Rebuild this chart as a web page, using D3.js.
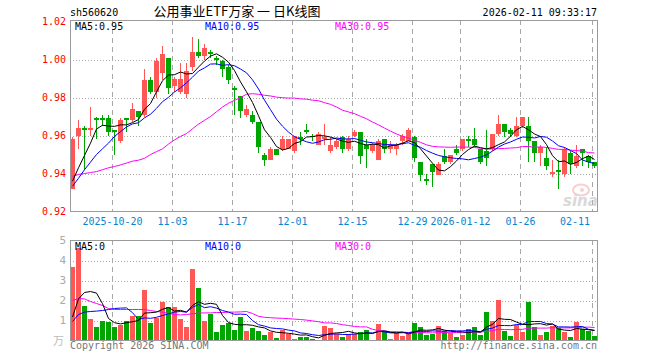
<!DOCTYPE html>
<html><head><meta charset="utf-8">
<script src="https://cdn.jsdelivr.net/npm/d3@7/dist/d3.min.js"></script>
<style>
body{margin:0;background:#fff}
svg{display:block}
text{font-family:"DejaVu Sans Mono",monospace;font-size:10px}
</style>
</head><body>
<svg id="chart" width="660" height="360"></svg>
<script>
const dates = ["2025-10-09","2025-10-10","2025-10-13","2025-10-14","2025-10-15","2025-10-16","2025-10-17","2025-10-20","2025-10-21","2025-10-22","2025-10-23","2025-10-24","2025-10-27","2025-10-28","2025-10-29","2025-10-30","2025-10-31",
"2025-11-03","2025-11-04","2025-11-05","2025-11-06","2025-11-07","2025-11-10","2025-11-11","2025-11-12","2025-11-13","2025-11-14","2025-11-17","2025-11-18","2025-11-19","2025-11-20","2025-11-21","2025-11-24","2025-11-25","2025-11-26","2025-11-27","2025-11-28",
"2025-12-01","2025-12-02","2025-12-03","2025-12-04","2025-12-05","2025-12-08","2025-12-09","2025-12-10","2025-12-11","2025-12-12","2025-12-15","2025-12-16","2025-12-17","2025-12-18","2025-12-19","2025-12-22","2025-12-23","2025-12-24","2025-12-25","2025-12-26","2025-12-29","2025-12-30","2025-12-31",
"2026-01-05","2026-01-06","2026-01-07","2026-01-08","2026-01-09","2026-01-12","2026-01-13","2026-01-14","2026-01-15","2026-01-16","2026-01-19","2026-01-20","2026-01-21","2026-01-22","2026-01-23","2026-01-26","2026-01-27","2026-01-28","2026-01-29","2026-01-30",
"2026-02-02","2026-02-03","2026-02-04","2026-02-05","2026-02-06","2026-02-09","2026-02-10","2026-02-11"];

const open  = [.932,.960,.964,.963,.969,.969,.969,.963,.957,.969,.968,.973,.971,.989,.983,.993,1.001,.986,.983,.982,.996,1.004,1.002,1.004,1.001,.999,.996,.985,.981,.971,.971,.967,.950,.947,.953,.953,.953,.952,.959,.963,.960,.955,.958,.952,.954,.959,.953,.960,.962,.955,.952,.947,.958,.953,.953,.957,.957,.959,.946,.937,.945,.939,.949,.946,.953,.953,.958,.958,.953,.952,.953,.961,.966,.963,.960,.965,.965,.957,.951,.948,.940,.942,.940,.951,.944,.953,.949,.946];
const high  = [.959,.968,.965,.975,.970,.971,.971,.963,.969,.969,.977,.973,.995,.991,1.001,1.007,1.001,.991,.998,.998,1.012,1.011,1.008,1.005,1.002,1.000,.997,.986,.981,.976,.973,.967,.951,.954,.953,.960,.958,.960,.962,.966,.961,.962,.966,.959,.958,.960,.960,.963,.962,.958,.956,.958,.958,.957,.956,.961,.964,.960,.946,.940,.945,.946,.953,.950,.955,.958,.960,.964,.953,.963,.961,.971,.966,.964,.970,.970,.970,.957,.955,.954,.947,.947,.954,.952,.955,.953,.950,.946];
const low   = [.932,.953,.942,.960,.958,.965,.960,.950,.956,.962,.967,.965,.970,.982,.980,.989,.982,.983,.982,.980,.994,1.001,1.000,1.001,.997,.991,.987,.971,.969,.970,.966,.951,.944,.947,.950,.952,.953,.951,.955,.961,.957,.955,.955,.951,.953,.951,.952,.959,.945,.943,.951,.947,.951,.951,.950,.955,.957,.946,.936,.934,.933,.939,.945,.945,.950,.952,.954,.954,.945,.944,.952,.960,.959,.959,.959,.964,.946,.946,.944,.942,.938,.932,.938,.940,.943,.944,.943,.943];
const close = [.958,.964,.963,.964,.968,.968,.962,.962,.968,.968,.974,.970,.989,.983,.999,1.003,.985,.990,.990,.994,1.004,1.002,1.006,1.003,1.000,.995,.989,.984,.973,.974,.967,.954,.947,.953,.950,.958,.958,.960,.958,.962,.959,.961,.959,.955,.957,.953,.958,.962,.949,.953,.955,.957,.953,.955,.955,.960,.963,.948,.939,.936,.941,.945,.946,.950,.951,.958,.957,.955,.946,.948,.961,.966,.962,.961,.965,.970,.957,.951,.954,.944,.941,.941,.953,.945,.949,.951,.946,.944];

const ma5  = [.936,.943,.9495,.956,.9634,.9654,.965,.9648,.9656,.9656,.9668,.9684,.9738,.9768,.983,.9888,.9918,.992,.9934,.9924,.9926,.996,.9992,1.0018,1.003,1.0012,.9986,.9942,.9882,.983,.9774,.9704,.963,.959,.9542,.9524,.9532,.9558,.9568,.9592,.9594,.960,.9598,.9592,.9582,.957,.9564,.957,.9558,.955,.9554,.9552,.9534,.9546,.955,.956,.9572,.9562,.953,.9492,.9454,.9418,.9414,.9436,.9466,.950,.9526,.9544,.9536,.953,.9536,.9552,.9566,.9596,.963,.9648,.963,.9608,.9594,.9552,.9494,.9462,.9466,.9448,.9458,.9478,.9492,.9474];
const ma10 = [.9333,.9375,.942,.946,.950,.953,.956,.9595,.962,.9645,.9661,.9667,.9693,.9712,.9743,.9778,.9801,.9829,.9851,.9877,.9907,.9939,.9956,.9976,.9977,.9969,.9973,.9967,.995,.993,.9893,.9845,.9786,.9736,.9686,.9649,.9618,.9594,.9579,.9567,.9559,.9566,.9578,.958,.9587,.9582,.9582,.9584,.9575,.9566,.9562,.9558,.9552,.9552,.955,.9557,.9562,.9548,.9538,.9521,.9507,.9495,.9488,.9483,.9479,.9477,.9472,.9479,.9486,.9498,.9518,.9539,.9555,.9566,.958,.9592,.9591,.9587,.9595,.9591,.9571,.9546,.9537,.9521,.9505,.9471,.946,.9453];
const ma30 = [.9385,.9395,.940,.9405,.941,.942,.943,.9437,.9445,.9455,.9465,.947,.948,.950,.9515,.953,.9555,.9577,.9595,.961,.9635,.966,.968,.970,.9725,.975,.977,.9785,.980,.9817,.982,.9817,.9812,.9808,.9802,.9799,.9797,.9797,.9793,.9791,.9786,.9783,.9773,.9764,.975,.9733,.9724,.9715,.9701,.9688,.9671,.9656,.9639,.9623,.9608,.9596,.9587,.9575,.9564,.9551,.9543,.954,.9539,.9538,.9539,.9539,.9539,.9537,.9533,.9528,.9529,.9531,.9532,.9534,.9536,.9542,.9542,.9538,.954,.9537,.9532,.9527,.9527,.9523,.9521,.9518,.951,.9508];

const volume = [3.67,4.63,1.75,1.1,0.7,1.0,0.95,0.7,0.8,1.0,1.25,1.25,2.55,0.9,1.15,1.95,1.7,1.67,1.1,0.7,3.6,2.65,1.0,1.35,0.45,0.8,0.9,0.55,1.2,0.5,0.65,0.5,0.3,0.45,0.15,0.55,0.35,0.1,0.2,0.2,0.1,0.05,0.75,0.65,0.35,0.2,0.35,0.35,0.45,0.55,0.05,0.85,0.5,0.1,0.4,0.25,0.4,0.9,0.7,0.3,0.35,0.75,0.5,0.4,0.2,0.3,0.6,0.7,0.3,1.45,1.0,2.05,0.5,0.25,0.8,0.45,1.95,0.7,0.3,0.45,0.75,0.65,0.45,0.2,0.95,0.6,0.5,0.25];
const volMA5  = [1.17,2.08,2.4,2.45,2.37,1.84,1.1,0.89,0.83,0.89,0.94,1.0,1.37,1.39,1.42,1.56,1.65,1.47,1.51,1.42,1.75,1.94,1.81,1.86,1.81,1.25,0.9,0.81,0.78,0.79,0.76,0.68,0.63,0.48,0.41,0.39,0.36,0.32,0.27,0.28,0.19,0.13,0.26,0.35,0.38,0.4,0.46,0.38,0.34,0.38,0.35,0.45,0.48,0.41,0.38,0.42,0.33,0.41,0.53,0.51,0.53,0.6,0.52,0.46,0.44,0.43,0.4,0.44,0.42,0.67,0.81,1.1,1.06,1.05,0.92,0.81,0.79,0.83,0.84,0.77,0.83,0.57,0.52,0.5,0.6,0.57,0.54,0.5];
const volMA10 = [0.95,1.3,1.42,1.45,1.47,1.5,1.55,1.6,1.62,1.63,1.39,1.05,1.13,1.11,1.16,1.25,1.33,1.42,1.45,1.42,1.66,1.8,1.64,1.69,1.62,1.5,1.42,1.31,1.32,1.3,1.0,0.79,0.72,0.63,0.6,0.58,0.52,0.48,0.38,0.35,0.29,0.25,0.29,0.31,0.33,0.3,0.3,0.32,0.35,0.38,0.38,0.46,0.43,0.38,0.38,0.39,0.39,0.45,0.47,0.45,0.48,0.47,0.47,0.5,0.48,0.48,0.5,0.48,0.44,0.56,0.62,0.75,0.75,0.74,0.8,0.81,0.95,0.95,0.95,0.85,0.82,0.68,0.68,0.67,0.69,0.7,0.56,0.51];
const volMA30 = [2.0,2.1,2.08,1.95,1.85,1.75,1.6,1.55,1.55,1.55,1.55,1.55,1.55,1.5,1.45,1.42,1.35,1.3,1.28,1.3,1.33,1.37,1.38,1.38,1.4,1.4,1.42,1.42,1.43,1.45,1.35,1.21,1.16,1.14,1.12,1.11,1.09,1.07,1.05,1.02,0.98,0.94,0.88,0.88,0.85,0.79,0.75,0.7,0.68,0.68,0.56,0.5,0.48,0.44,0.44,0.42,0.4,0.41,0.4,0.39,0.38,0.39,0.4,0.39,0.4,0.39,0.4,0.42,0.42,0.46,0.49,0.56,0.55,0.54,0.55,0.56,0.61,0.62,0.62,0.62,0.64,0.63,0.63,0.63,0.65,0.66,0.67,0.65];

const tickDates  = ["2025-10-20","2025-11-03","2025-11-17","2025-12-01","2025-12-15","2025-12-29","2026-01-12","2026-01-26","2026-02-11"];
const tickLabels = ["2025-10-20","11-03","11-17","12-01","12-15","12-29","2026-01-12","01-26","02-11"];
const priceTicks = [0.92,0.94,0.96,0.98,1.00,1.02];
const priceGrid  = [0.94,0.96,0.98,1.00];
const volTicks   = [1,2,3,4,5];
const volGrid    = [1,2,3,4];

const RED = "#ff5656", GREEN = "#00a600", BLUE = "#0000ff", MAG = "#ff00ff";
const GRID = "#a8a8a8", FRAME = "#9a9a9a", DATE = "#0a84d0";

const svg = d3.select("#chart");
const L = 70, R = 597;
const x = d3.scaleBand().domain(dates).range([L, L + dates.length * 6]).padding(0);
const bw = x.bandwidth() - 1;
const y = d3.scaleLinear().domain([0.92, 1.02]).range([211.5, 21.5]);
const yv = d3.scaleLinear().domain([0, 5]).range([340.5, 240.5]);
const idx = d3.range(dates.length);
const isUp = i => close[i] >= open[i];

// ---- header ----
svg.append("text").attr("x", 70).attr("y", 16).attr("fill", "#000").text("sh560620");
svg.append("text").attr("x", 237).attr("y", 15.5).attr("text-anchor", "middle")
  .style("font-family", "'Noto Sans CJK SC',sans-serif").style("font-size", "13px")
  .attr("fill", "#000").text("公用事业ETF万家 一 日K线图");
svg.append("text").attr("x", 597).attr("y", 16).attr("text-anchor", "end").attr("fill", "#000").text("2026-02-11 09:33:17");

// ---- grids (main) ----
const gMain = svg.append("g").attr("shape-rendering", "crispEdges");
gMain.selectAll("line.hg").data(priceGrid).join("line")
  .attr("x1", L).attr("x2", R).attr("y1", d => Math.round(y(d)) + 0.5).attr("y2", d => Math.round(y(d)) + 0.5)
  .attr("stroke", GRID).attr("stroke-dasharray", "1,2");
gMain.selectAll("line.vg").data(tickDates).join("line")
  .attr("x1", d => x(d) + 0.5).attr("x2", d => x(d) + 0.5).attr("y1", 20).attr("y2", 211)
  .attr("stroke", GRID).attr("stroke-dasharray", "5,4");

// price labels
svg.selectAll("text.py").data(priceTicks).join("text")
  .attr("x", 66).attr("y", d => y(d) + 3.5).attr("text-anchor", "end").attr("fill", "#ff0000")
  .text(d => d.toFixed(2));

// date labels
svg.selectAll("text.dl").data(tickDates).join("text")
  .attr("x", (d, i) => i === tickDates.length - 1 ? x(d) - 2 : x(d) + 0.5)
  .attr("y", 225)
  .attr("text-anchor", (d, i) => i === tickDates.length - 1 ? "end" : "middle")
  .attr("fill", DATE).text((d, i) => tickLabels[i]);

// watermark
const wm = svg.append("g").attr("opacity", 0.55);
wm.append("ellipse").attr("cx", 581).attr("cy", 190).attr("rx", 8).attr("ry", 5.5).attr("fill", "none").attr("stroke", "#f0a8a8").attr("stroke-width", 2);
wm.append("circle").attr("cx", 582).attr("cy", 190).attr("r", 2).attr("fill", "#f0a8a8");
wm.append("text").attr("x", 563).attr("y", 206).style("font-family", "'DejaVu Sans',sans-serif")
  .style("font-size", "15px").style("font-weight", "bold").style("font-style", "italic").attr("fill", "#bbb").text("sina");

// ---- candles ----
const gC = svg.append("g").attr("shape-rendering", "crispEdges");
gC.selectAll("line.wick").data(idx).join("line")
  .attr("x1", i => x(dates[i]) + 2.5).attr("x2", i => x(dates[i]) + 2.5)
  .attr("y1", i => y(high[i])).attr("y2", i => y(low[i]))
  .attr("stroke", i => isUp(i) ? RED : GREEN);
gC.selectAll("rect.body").data(idx).join("rect")
  .attr("x", i => x(dates[i])).attr("width", bw)
  .attr("y", i => y(Math.max(open[i], close[i])))
  .attr("height", i => Math.max(1, Math.abs(y(open[i]) - y(close[i]))))
  .attr("fill", i => isUp(i) ? RED : GREEN);

// MA lines
const lineP = arr => d3.line().x(i => x(dates[i]) + 2.5).y(i => y(arr[i]))(idx);
[[ma30, MAG], [ma10, BLUE], [ma5, "#000"]].forEach(([arr, c]) => {
  svg.append("path").attr("d", lineP(arr)).attr("fill", "none").attr("stroke", c).attr("stroke-width", 1);
});

// main frame
svg.append("path").attr("d", `M${L+0.5},20.5H${R+0.5}V211.5H${L+0.5}Z`).attr("fill", "none")
  .attr("stroke", FRAME).attr("shape-rendering", "crispEdges");

svg.append("text").attr("x", 75).attr("y", 29.5).attr("fill", "#000").text("MA5:0.95");
svg.append("text").attr("x", 205).attr("y", 29.5).attr("fill", BLUE).text("MA10:0.95");
svg.append("text").attr("x", 335).attr("y", 29.5).attr("fill", MAG).text("MA30:0.95");

// ---- volume panel ----
const gV = svg.append("g").attr("shape-rendering", "crispEdges");
gV.selectAll("line.hg").data(volGrid).join("line")
  .attr("x1", L).attr("x2", R).attr("y1", d => Math.round(yv(d)) + 0.5).attr("y2", d => Math.round(yv(d)) + 0.5)
  .attr("stroke", GRID).attr("stroke-dasharray", "1,2");
gV.selectAll("line.vg").data(tickDates).join("line")
  .attr("x1", d => x(d) + 0.5).attr("x2", d => x(d) + 0.5).attr("y1", 240).attr("y2", 340)
  .attr("stroke", GRID).attr("stroke-dasharray", "5,4");

svg.selectAll("text.vy").data(volTicks).join("text")
  .attr("x", 66).attr("y", d => yv(d) + 3.5).attr("text-anchor", "end").attr("fill", "#aaa")
  .style("font-size", "11px").text(d => d);
svg.append("text").attr("x", 64).attr("y", 345).attr("text-anchor", "end").attr("fill", "#bbb")
  .style("font-family", "'Noto Sans CJK SC',sans-serif").style("font-size", "11px").text("万");

gV.selectAll("rect.vol").data(idx).join("rect")
  .attr("x", i => x(dates[i])).attr("width", bw)
  .attr("y", i => yv(volume[i])).attr("height", i => yv(0) - yv(volume[i]))
  .attr("fill", i => isUp(i) ? RED : GREEN);

const lineV = arr => d3.line().x(i => x(dates[i]) + 2.5).y(i => yv(arr[i]))(idx);
[[volMA30, MAG], [volMA10, BLUE], [volMA5, "#000"]].forEach(([arr, c]) => {
  svg.append("path").attr("d", lineV(arr)).attr("fill", "none").attr("stroke", c).attr("stroke-width", 1);
});

svg.append("path").attr("d", `M${L+0.5},240.5H${R+0.5}V340.5H${L+0.5}Z`).attr("fill", "none")
  .attr("stroke", FRAME).attr("shape-rendering", "crispEdges");

svg.append("text").attr("x", 75).attr("y", 250).attr("fill", "#000").text("MA5:0");
svg.append("text").attr("x", 205).attr("y", 250).attr("fill", BLUE).text("MA10:0");
svg.append("text").attr("x", 335).attr("y", 250).attr("fill", MAG).text("MA30:0");

svg.append("text").attr("x", 70).attr("y", 349).attr("fill", "#777").text("Copyright 2026 SINA.COM");
svg.append("text").attr("x", 597).attr("y", 349).attr("text-anchor", "end").attr("fill", "#777").text("http://finance.sina.com.cn");
</script>
</body></html>
